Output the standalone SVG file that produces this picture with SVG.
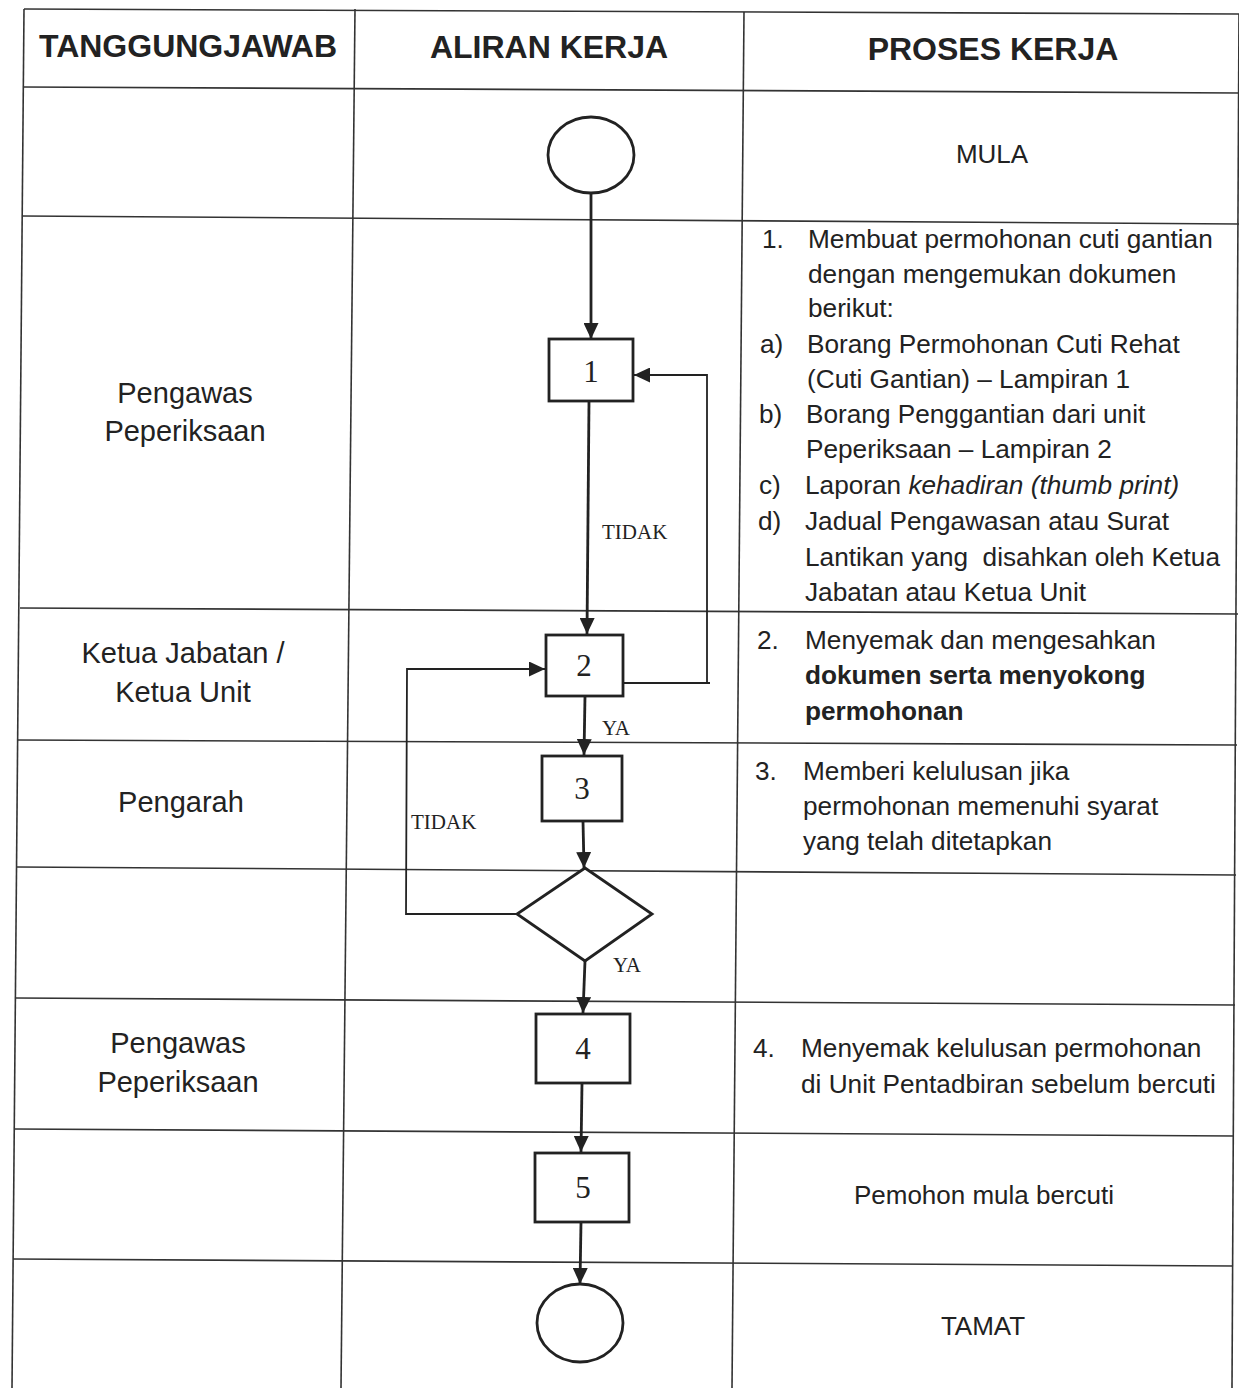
<svg xmlns="http://www.w3.org/2000/svg" width="1239" height="1388" viewBox="0 0 1239 1388">
<defs>
<marker id="arr" markerUnits="userSpaceOnUse" markerWidth="17" markerHeight="15" refX="16" refY="7.5" orient="auto">
<path d="M0,0 L16,7.5 L0,15 z" fill="#222"/>
</marker>
<style>
.grid{stroke:#333;stroke-width:1.6;fill:none}
.hd{font-family:"Liberation Sans",Arial,sans-serif;font-weight:bold;font-size:32px;fill:#222;text-anchor:middle}
.lc{font-family:"Liberation Sans",Arial,sans-serif;font-size:29px;fill:#222;text-anchor:middle}
.rc{font-family:"Liberation Sans",Arial,sans-serif;font-size:26.2px;fill:#222}
.rcm{font-family:"Liberation Sans",Arial,sans-serif;font-size:26px;fill:#222;text-anchor:middle}
.num{font-family:"Liberation Serif","Times New Roman",serif;font-size:31px;fill:#222;text-anchor:middle}
.lbl{font-family:"Liberation Serif","Times New Roman",serif;font-size:21px;fill:#222}
.shape{fill:#fff;stroke:#222;stroke-width:2.8}
.flow{stroke:#222;stroke-width:2.8;fill:none}
.back{stroke:#222;stroke-width:1.8;fill:none}
</style>
</defs>
<rect x="0" y="0" width="1239" height="1388" fill="#fff"/>

<g id="table">
<line class="grid" x1="24" y1="9" x2="12" y2="1388"/>
<line class="grid" x1="355" y1="9" x2="341" y2="1388"/>
<line class="grid" x1="744" y1="12" x2="732" y2="1388"/>
<line class="grid" x1="1239" y1="14" x2="1232" y2="1388"/>
<line class="grid" x1="24" y1="9" x2="1239" y2="14"/>
<line class="grid" x1="23" y1="87" x2="1239" y2="93"/>
<line class="grid" x1="22" y1="216" x2="1239" y2="224"/>
<line class="grid" x1="20" y1="608" x2="1238" y2="614"/>
<line class="grid" x1="18" y1="740" x2="1237" y2="745"/>
<line class="grid" x1="17" y1="867" x2="1236" y2="875"/>
<line class="grid" x1="16" y1="998" x2="1235" y2="1005"/>
<line class="grid" x1="15" y1="1129" x2="1234" y2="1136"/>
<line class="grid" x1="13" y1="1259" x2="1233" y2="1266"/>
</g>

<g id="headers">
<text class="hd" x="188" y="57">TANGGUNGJAWAB</text>
<text class="hd" x="549" y="58">ALIRAN KERJA</text>
<text class="hd" x="993" y="60">PROSES KERJA</text>
</g>

<g id="responsibility">
<text class="lc" x="185" y="403">Pengawas</text>
<text class="lc" x="185" y="441">Peperiksaan</text>
<text class="lc" x="183" y="663">Ketua Jabatan /</text>
<text class="lc" x="183" y="702">Ketua Unit</text>
<text class="lc" x="181" y="812">Pengarah</text>
<text class="lc" x="178" y="1053">Pengawas</text>
<text class="lc" x="178" y="1092">Peperiksaan</text>
</g>

<g id="process">
<text class="rcm" x="992" y="163">MULA</text>
<text class="rc" x="762" y="248">1.</text>
<text class="rc" x="808" y="248">Membuat permohonan cuti gantian</text>
<text class="rc" x="808" y="283">dengan mengemukan dokumen</text>
<text class="rc" x="808" y="317">berikut:</text>
<text class="rc" x="760" y="353">a)</text>
<text class="rc" x="807" y="353">Borang Permohonan Cuti Rehat</text>
<text class="rc" x="807" y="388">(Cuti Gantian) – Lampiran 1</text>
<text class="rc" x="759" y="423">b)</text>
<text class="rc" x="806" y="423">Borang Penggantian dari unit</text>
<text class="rc" x="806" y="458">Peperiksaan – Lampiran 2</text>
<text class="rc" x="759" y="494">c)</text>
<text class="rc" x="805" y="494">Laporan <tspan font-style="italic">kehadiran (thumb print)</tspan></text>
<text class="rc" x="758" y="530">d)</text>
<text class="rc" x="805" y="530">Jadual Pengawasan atau Surat</text>
<text class="rc" x="805" y="566" xml:space="preserve">Lantikan yang  disahkan oleh Ketua</text>
<text class="rc" x="805" y="601">Jabatan atau Ketua Unit</text>

<text class="rc" x="757" y="649">2.</text>
<text class="rc" x="805" y="649">Menyemak dan mengesahkan</text>
<text class="rc" x="805" y="684" font-weight="bold">dokumen serta menyokong</text>
<text class="rc" x="805" y="720" font-weight="bold">permohonan</text>

<text class="rc" x="755" y="780">3.</text>
<text class="rc" x="803" y="780">Memberi kelulusan jika</text>
<text class="rc" x="803" y="815">permohonan memenuhi syarat</text>
<text class="rc" x="803" y="850">yang telah ditetapkan</text>

<text class="rc" x="753" y="1057">4.</text>
<text class="rc" x="801" y="1057">Menyemak kelulusan permohonan</text>
<text class="rc" x="801" y="1093">di Unit Pentadbiran sebelum bercuti</text>

<text class="rcm" x="984" y="1204">Pemohon mula bercuti</text>
<text class="rcm" x="983" y="1335">TAMAT</text>
</g>

<g id="connectors">
<line class="flow" x1="591" y1="193" x2="591" y2="339" marker-end="url(#arr)"/>
<line class="flow" x1="589" y1="401" x2="587" y2="634" marker-end="url(#arr)"/>
<polyline class="back" points="623,683 710,683"/>
<polyline class="back" points="707,683 707,375 634,375" marker-end="url(#arr)"/>
<line class="flow" x1="585" y1="696" x2="584" y2="755" marker-end="url(#arr)"/>
<line class="flow" x1="583" y1="821" x2="584" y2="868" marker-end="url(#arr)"/>
<polyline class="back" points="517,914 406,914 407,669 545,669" marker-end="url(#arr)"/>
<line class="flow" x1="585" y1="961" x2="583" y2="1013" marker-end="url(#arr)"/>
<line class="flow" x1="582" y1="1083" x2="581" y2="1152" marker-end="url(#arr)"/>
<line class="flow" x1="581" y1="1222" x2="580" y2="1284" marker-end="url(#arr)"/>
<text class="lbl" x="602" y="539">TIDAK</text>
<text class="lbl" x="602" y="735">YA</text>
<text class="lbl" x="411" y="829">TIDAK</text>
<text class="lbl" x="613" y="972">YA</text>
</g>

<g id="start">
<ellipse class="shape" cx="591" cy="155" rx="43" ry="38"/>
</g>
<g id="step1">
<rect class="shape" x="549" y="339" width="84" height="62"/>
<text class="num" x="591" y="382">1</text>
</g>
<g id="step2">
<rect class="shape" x="546" y="635" width="77" height="61"/>
<text class="num" x="584" y="676">2</text>
</g>
<g id="step3">
<rect class="shape" x="542" y="756" width="80" height="65"/>
<text class="num" x="582" y="799">3</text>
</g>
<g id="decision">
<polygon class="shape" points="585,868 652,914 585,961 517,914"/>
</g>
<g id="step4">
<rect class="shape" x="536" y="1014" width="94" height="69"/>
<text class="num" x="583" y="1059">4</text>
</g>
<g id="step5">
<rect class="shape" x="535" y="1153" width="94" height="69"/>
<text class="num" x="583" y="1198">5</text>
</g>
<g id="end">
<ellipse class="shape" cx="580" cy="1323" rx="43" ry="39"/>
</g>
</svg>
